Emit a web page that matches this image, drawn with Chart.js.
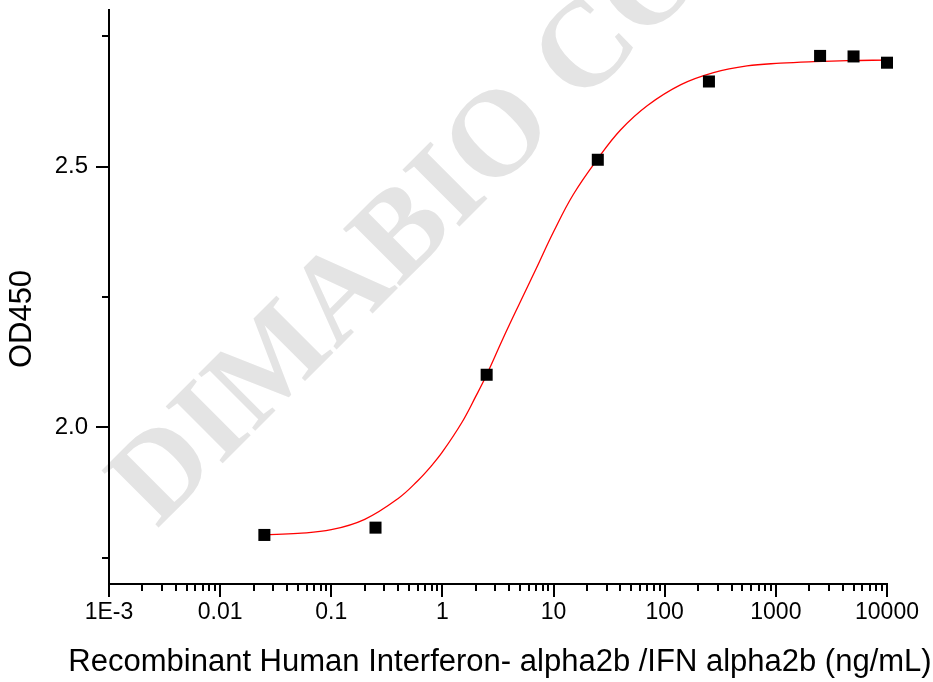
<!DOCTYPE html>
<html>
<head>
<meta charset="utf-8">
<script src="https://cdn.jsdelivr.net/npm/chart.js@4.4.1/dist/chart.umd.min.js"></script>
<style>
  html, body { margin: 0; padding: 0; background: #fff; }
  #wrap { width: 933px; height: 682px; }
</style>
</head>
<body>
<div id="wrap"><canvas id="c" width="933" height="682"></canvas></div>
<script>
// measured points (ng/mL vs OD450)
const doseX = [0.025, 0.25, 2.5, 25, 250, 2500, 5000, 10000];
const od450 = [1.794, 1.808, 2.101, 2.513, 2.663, 2.712, 2.711, 2.699];

// fitted curve
const fitX = [0.025, 0.05, 0.1, 0.2, 0.4, 0.6, 0.8, 1.0, 1.5, 2.0, 2.5, 3.5, 5, 7, 10, 15, 25, 40, 70, 140, 275, 550, 1100, 2200, 4400, 10000];
const fitY = [1.794, 1.797, 1.804, 1.824, 1.864, 1.898, 1.927, 1.953, 2.010, 2.060, 2.101, 2.170, 2.240, 2.305, 2.375, 2.446, 2.515, 2.570, 2.617, 2.657, 2.680, 2.693, 2.698, 2.701, 2.703, 2.704];

// axes
const xMajor = [0.001, 0.01, 0.1, 1, 10, 100, 1000, 10000];
const xLabels = ['1E-3', '0.01', '0.1', '1', '10', '100', '1000', '10000'];
const xMinorMult = [2, 3, 4, 5, 6, 7, 8, 9];
const yMajor = [2.0, 2.5];
const yLabels = ['2.0', '2.5'];
const yMinor = [1.75, 2.25, 2.75];

const xTitle = 'Recombinant Human Interferon- alpha2b /IFN alpha2b (ng/mL)';
const yTitle = 'OD450';
const mark = 'DIMABIO CO.,LTD.';

const SANS = '"Liberation Sans", Arial, sans-serif';

const xTicks = xMajor.slice();
xMajor.slice(0, -1).forEach((d) => xMinorMult.forEach((m) => xTicks.push(m * d)));
xTicks.sort((a, b) => a - b);
const yTicks = yMajor.concat(yMinor).sort((a, b) => a - b);

// grey diagonal watermark, under everything
const watermark = {
  id: 'watermark',
  beforeDraw(chart) {
    const { ctx } = chart;
    ctx.save();
    ctx.translate(157, 529);
    ctx.rotate(-45 * Math.PI / 180);
    ctx.font = 'bold 123px "Liberation Serif", "Times New Roman", serif';
    ctx.fillStyle = '#e4e4e4';
    ctx.textBaseline = 'alphabetic';
    ctx.fillText(mark, 0, 0);
    ctx.restore();
  },
};

// outward ticks (long major, short minor) + axis titles
const axisDeco = {
  id: 'axisDeco',
  afterDraw(chart) {
    const { ctx } = chart, sx = chart.scales.x, sy = chart.scales.y;
    ctx.save();
    ctx.strokeStyle = '#000'; ctx.lineWidth = 2; ctx.lineCap = 'butt';
    ctx.beginPath();
    sx.ticks.forEach((t) => {
      const px = Math.round(sx.getPixelForValue(t.value));
      const len = xMajor.includes(t.value) ? 13 : 7;
      ctx.moveTo(px, sx.top); ctx.lineTo(px, sx.top + len);
    });
    sy.ticks.forEach((t) => {
      const py = Math.round(sy.getPixelForValue(t.value));
      const len = yMajor.includes(t.value) ? 13 : 7;
      ctx.moveTo(sy.right, py); ctx.lineTo(sy.right - len, py);
    });
    ctx.stroke();

    ctx.fillStyle = '#000';
    ctx.font = '31px ' + SANS;
    ctx.textAlign = 'center'; ctx.textBaseline = 'middle';
    ctx.fillText(xTitle, 500, 662);
    ctx.translate(22, 319); ctx.rotate(-Math.PI / 2);
    ctx.fillText(yTitle, 0, 0);
    ctx.restore();
  },
};

new Chart(document.getElementById('c'), {
  type: 'scatter',
  data: {
    datasets: [
      {
        type: 'line',
        data: fitX.map((x, i) => ({ x, y: fitY[i] })),
        borderColor: '#ff0000', borderWidth: 1.3,
        pointRadius: 0, fill: false, tension: 0.4,
        order: 2,
      },
      {
        type: 'scatter',
        data: doseX.map((x, i) => ({ x, y: od450[i] })),
        pointStyle: 'rect', pointRadius: 8.5,
        backgroundColor: '#000', borderColor: '#000', borderWidth: 0,
        clip: false,
        order: 1,
      },
    ],
  },
  options: {
    responsive: false, animation: false, devicePixelRatio: 1,
    layout: { padding: { left: 0, right: 46, top: 10, bottom: 0 } },
    plugins: { legend: { display: false }, tooltip: { enabled: false } },
    scales: {
      x: {
        type: 'logarithmic', min: 0.001, max: 10000,
        afterBuildTicks: (s) => { s.ticks = xTicks.map((v) => ({ value: v })); },
        afterFit: (s) => { s.height = 98; s.paddingLeft = 0; s.paddingRight = 0; },
        grid: { display: true, drawOnChartArea: false, drawTicks: false },
        border: { display: true, color: '#000', width: 2 },
        ticks: {
          autoSkip: false, maxRotation: 0, padding: 15, color: '#000',
          font: { family: SANS, size: 23 },
          callback: (v) => { const i = xMajor.indexOf(v); return i >= 0 ? xLabels[i] : ''; },
        },
      },
      y: {
        type: 'linear', min: 1.7, max: 2.8,
        afterBuildTicks: (s) => { s.ticks = yTicks.map((v) => ({ value: v })); },
        afterFit: (s) => { s.width = 109; s.paddingTop = 0; s.paddingBottom = 0; },
        grid: { display: true, drawOnChartArea: false, drawTicks: false },
        border: { display: true, color: '#000', width: 2 },
        ticks: {
          padding: 21, color: '#000',
          font: { family: SANS, size: 24 },
          callback: (v) => { const i = yMajor.indexOf(v); return i >= 0 ? yLabels[i] : ''; },
        },
      },
    },
  },
  plugins: [watermark, axisDeco],
});
</script>
</body>
</html>
